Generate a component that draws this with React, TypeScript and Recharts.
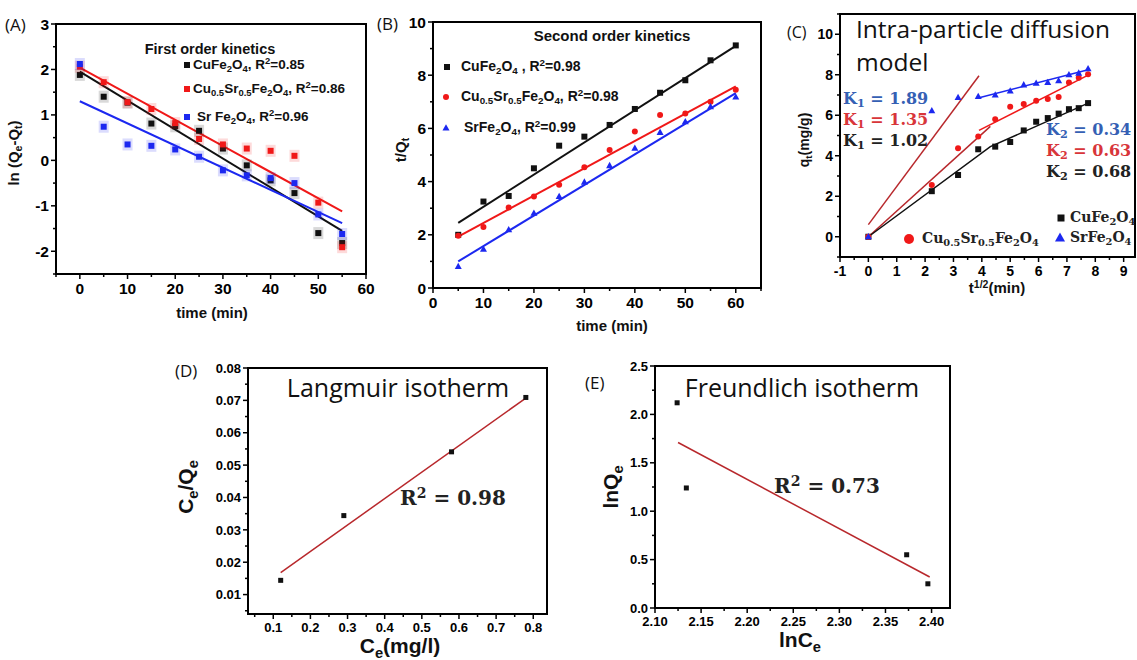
import React from 'react';
import { ComposedChart, Scatter, Line, XAxis, YAxis, ReferenceArea } from 'recharts';

// (A) first order kinetics, ln(Qe-Qt) against time
const timeA = [0, 5, 10, 15, 20, 25, 30, 35, 40, 45, 50, 55];
const lnCuFe = [1.88, 1.4, 1.27, 0.81, 0.75, 0.65, 0.26, -0.11, -0.44, -0.72, -1.6, -1.82];
const lnCuSr = [2.06, 1.72, 1.28, 1.13, 0.82, 0.47, 0.35, 0.26, 0.21, 0.1, -0.93, -1.91];
const lnSrFe = [2.12, 0.74, 0.35, 0.32, 0.24, 0.08, -0.22, -0.33, -0.39, -0.5, -1.19, -1.62];
const fitTimeA = [0, 55];
const fitLnCuFe = [1.95, -1.55];
const fitLnCuSr = [2.04, -1.12];
const fitLnSrFe = [1.3, -1.38];
const xTicksA = [-5, 0, 5, 10, 15, 20, 25, 30, 35, 40, 45, 50, 55, 60];
const xMajorA = [0, 10, 20, 30, 40, 50, 60];
const yTicksA = [-2.5, -2, -1.5, -1, -0.5, 0, 0.5, 1, 1.5, 2, 2.5, 3];
const yMajorA = [-2, -1, 0, 1, 2, 3];

// (B) second order kinetics, t/Qt against time
const timeB = [5, 10, 15, 20, 25, 30, 35, 40, 45, 50, 55, 60];
const tqCuFe = [2.0, 3.25, 3.46, 4.5, 5.35, 5.69, 6.13, 6.73, 7.34, 7.81, 8.56, 9.12];
const tqCuSr = [1.96, 2.29, 3.03, 3.44, 3.88, 4.54, 5.19, 5.88, 6.5, 6.56, 7.0, 7.45];
const tqSrFe = [0.81, 1.46, 2.19, 2.81, 3.44, 3.98, 4.6, 5.25, 5.85, 6.25, 6.81, 7.18];
const fitTimeB = [5, 60];
const fitTqCuFe = [2.45, 9.1];
const fitTqCuSr = [1.93, 7.58];
const fitTqSrFe = [1.0, 7.33];
const xTicksB = [0, 5, 10, 15, 20, 25, 30, 35, 40, 45, 50, 55, 60, 65];
const xMajorB = [0, 10, 20, 30, 40, 50, 60];
const yTicksB = [0, 1, 2, 3, 4, 5, 6, 7, 8, 9, 10];
const yMajorB = [0, 2, 4, 6, 8, 10];

// (C) intra-particle diffusion, qt against t^1/2
const rootT = [0, 2.236, 3.162, 3.873, 4.472, 5, 5.477, 5.916, 6.325, 6.708, 7.071, 7.416, 7.746];
const qCuFe = [0, 2.25, 3.05, 4.32, 4.45, 4.68, 5.25, 5.68, 5.86, 6.08, 6.3, 6.35, 6.6];
const qCuSr = [0, 2.56, 4.37, 4.95, 5.8, 6.42, 6.55, 6.72, 6.8, 6.9, 7.62, 7.85, 8.02];
const qSrFe = [0, 6.22, 6.88, 6.93, 7.0, 7.2, 7.5, 7.58, 7.62, 7.7, 8.0, 8.08, 8.3];
const fitSteepT = [0, 3.9];
const fitSteepQ = [0.6, 7.95];
const fitCuSr1T = [0, 4.3];
const fitCuSr1Q = [0, 5.45];
const fitCuSr2T = [3.9, 7.75];
const fitCuSr2Q = [5.25, 7.98];
const fitCuFeT = [0, 4.3, 7.75];
const fitCuFeQ = [0, 4.45, 6.6];
const fitSrFeT = [3.87, 7.75];
const fitSrFeQ = [6.85, 8.25];
const xTicksC = [-1, -0.5, 0, 0.5, 1, 1.5, 2, 2.5, 3, 3.5, 4, 4.5, 5, 5.5, 6, 6.5, 7, 7.5, 8, 8.5, 9];
const xMajorC = [-1, 0, 1, 2, 3, 4, 5, 6, 7, 8, 9];
const yTicksC = [-1, 0, 1, 2, 3, 4, 5, 6, 7, 8, 9, 10, 11];
const yMajorC = [0, 2, 4, 6, 8, 10];

// (D) Langmuir isotherm
const ceD = [0.12, 0.29, 0.58, 0.78];
const ceQeD = [0.0144, 0.0344, 0.0541, 0.0709];
const fitCeD = [0.12, 0.78];
const fitCeQeD = [0.0168, 0.0707];
const xTicksD = [0.05, 0.1, 0.15, 0.2, 0.25, 0.3, 0.35, 0.4, 0.45, 0.5, 0.55, 0.6, 0.65, 0.7, 0.75, 0.8];
const xMajorD = [0.1, 0.2, 0.3, 0.4, 0.5, 0.6, 0.7, 0.8];
const yTicksD = [0.005, 0.01, 0.015, 0.02, 0.025, 0.03, 0.035, 0.04, 0.045, 0.05, 0.055, 0.06, 0.065, 0.07, 0.075, 0.08];
const yMajorD = [0.01, 0.02, 0.03, 0.04, 0.05, 0.06, 0.07, 0.08];

// (E) Freundlich isotherm
const lnCeE = [2.124, 2.134, 2.373, 2.396];
const lnQeE = [2.12, 1.24, 0.55, 0.25];
const fitLnCeE = [2.125, 2.398];
const fitLnQeE = [1.71, 0.32];
const xTicksE = [2.1, 2.125, 2.15, 2.175, 2.2, 2.225, 2.25, 2.275, 2.3, 2.325, 2.35, 2.375, 2.4];
const xMajorE = [2.1, 2.15, 2.2, 2.25, 2.3, 2.35, 2.4];
const yTicksE = [0, 0.25, 0.5, 0.75, 1, 1.25, 1.5, 1.75, 2, 2.25, 2.5];
const yMajorE = [0, 0.5, 1, 1.5, 2, 2.5];

const BLACK = '#111111';
const RED = '#f01818';
const BLUE = '#1c28f0';
const DARKRED = '#b8282c';
const KBLUE = '#3560b4';
const KRED = '#d8353a';

const ARIAL = '"Liberation Sans", Arial, sans-serif';
const CALIBRI = '"Open Sans", sans-serif';
const CAMBRIA = '"DejaVu Serif", serif';

const pts = (xs: number[], ys: number[]) => xs.map((x, i) => ({ x, y: ys[i] }));

const Sym = ({ cx, cy, kind, color, s, halo }: any) => {
  if (cx == null || cy == null) return null;
  if (kind === 'circle') return <circle cx={cx} cy={cy} r={s / 2} fill={color} />;
  if (kind === 'triangle') {
    const h = s * 0.9;
    return <polygon points={`${cx},${cy - h * 0.6} ${cx - s / 2},${cy + h * 0.4} ${cx + s / 2},${cy + h * 0.4}`} fill={color} />;
  }
  return (
    <g>
      {halo && <rect x={cx - s / 2 - 2} y={cy - s / 2 - 3} width={s + 4} height={s + 6} fill={color} opacity={0.16} />}
      <rect x={cx - s / 2} y={cy - s / 2} width={s} height={s} fill={color} />
    </g>
  );
};

const mark = (kind: string, color: string, s: number, halo = false) => (p: any) =>
  <Sym cx={p.cx} cy={p.cy} kind={kind} color={color} s={s} halo={halo} />;

const tickFont = (fs: number) => ({ fontFamily: ARIAL, fontWeight: 'bold' as const, fontSize: fs, fill: '#000' });

const AxisTick = (props: any) => {
  const { x, y, payload, side, majors, fmt, fs } = props;
  const v = payload.value;
  const major = majors.some((m: number) => Math.abs(m - v) < 1e-9);
  const len = major ? 5 : 3;
  if (side === 'bottom') {
    return (
      <g>
        <line x1={x} y1={y} x2={x} y2={y + len} stroke="#000" strokeWidth={1.5} />
        {major && (
          <text x={x} y={y + 8} dy="0.75em" textAnchor="middle" style={tickFont(fs)}>
            {fmt(v)}
          </text>
        )}
      </g>
    );
  }
  return (
    <g>
      <line x1={x} y1={y} x2={x - len} y2={y} stroke="#000" strokeWidth={1.5} />
      {major && (
        <text x={x - 7} y={y} dy="0.36em" textAnchor="end" style={tickFont(fs)}>
          {fmt(v)}
        </text>
      )}
    </g>
  );
};

const PL = 70, PT = 14, PR = 18, PB = 40;

function Frame({ box, xDomain, yDomain, xTicks, xMajor, yTicks, yMajor, xFmt, yFmt, fs, children }: any) {
  const w = box[2] - box[0];
  const h = box[3] - box[1];
  return (
    <div style={{ position: 'absolute', left: box[0] - PL, top: box[1] - PT }}>
      <ComposedChart width={w + PL + PR} height={h + PT + PB} margin={{ top: PT, right: PR, bottom: 0, left: 0 }}>
        <XAxis type="number" dataKey="x" domain={xDomain} ticks={xTicks} interval={0} height={PB}
          allowDataOverflow axisLine={false} tickLine={false} tickSize={0} tickMargin={0}
          tick={<AxisTick side="bottom" majors={xMajor} fmt={xFmt} fs={fs} />} />
        <YAxis type="number" dataKey="y" domain={yDomain} ticks={yTicks} interval={0} width={PL}
          allowDataOverflow axisLine={false} tickLine={false} tickSize={0} tickMargin={0}
          tick={<AxisTick side="left" majors={yMajor} fmt={yFmt} fs={fs} />} />
        <ReferenceArea x1={xDomain[0]} x2={xDomain[1]} y1={yDomain[0]} y2={yDomain[1]}
          fill="none" stroke="#000" strokeWidth={2} fillOpacity={0} strokeOpacity={1} />
        {children}
      </ComposedChart>
    </div>
  );
}

const fitLine = (xs: number[], ys: number[], color: string, w = 2) => (
  <Line data={pts(xs, ys)} dataKey="y" type="linear" stroke={color} strokeWidth={w}
    dot={false} activeDot={false} isAnimationActive={false} legendType="none" />
);

const Txt = ({ x, y, c, style, children }: any) => (
  <div style={{
    position: 'absolute', left: x, top: y, whiteSpace: 'nowrap', lineHeight: 1,
    transform: c ? 'translate(-50%, -50%)' : 'translateY(-50%)', ...style,
  }}>{children}</div>
);

const VTxt = ({ x, y, style, children }: any) => (
  <div style={{
    position: 'absolute', left: x, top: y, whiteSpace: 'nowrap', lineHeight: 1,
    transform: 'translate(-50%, -50%) rotate(-90deg)', ...style,
  }}>{children}</div>
);

const Dot = ({ x, y, kind, color, s, halo }: any) => (
  <svg style={{ position: 'absolute', left: x - 8, top: y - 8 }} width={16} height={16}>
    <Sym cx={8} cy={8} kind={kind} color={color} s={s} halo={halo} />
  </svg>
);

const Sub = ({ children }: any) => <span style={{ fontSize: '0.7em', verticalAlign: '-0.3em' }}>{children}</span>;
const Sup = ({ children }: any) => <span style={{ fontSize: '0.7em', verticalAlign: '0.55em' }}>{children}</span>;

const bold = (size: number, extra: any = {}) => ({ fontFamily: ARIAL, fontWeight: 700, fontSize: size, color: '#111', ...extra });
const calibri = (size: number) => ({ fontFamily: CALIBRI, fontSize: size, color: '#111' });
const cambria = (size: number, color: string) => ({ fontFamily: CAMBRIA, fontWeight: 700, fontSize: size, color });

const int = (v: number) => String(v);

export default function App() {
  return (
    <div style={{ position: 'absolute', left: 0, top: 0, width: 1137, height: 660, background: '#fff', overflow: 'hidden' }}>
      <Frame box={[56, 24, 366, 274]} xDomain={[-5, 60]} yDomain={[-2.5, 3]} xTicks={xTicksA} xMajor={xMajorA}
        yTicks={yTicksA} yMajor={yMajorA} xFmt={int} yFmt={int} fs={15.5}>
        {fitLine(fitTimeA, fitLnCuFe, BLACK)}
        {fitLine(fitTimeA, fitLnCuSr, RED)}
        {fitLine(fitTimeA, fitLnSrFe, BLUE)}
        <Scatter data={pts(timeA, lnCuFe)} shape={mark('square', BLACK, 6, true)} isAnimationActive={false} />
        <Scatter data={pts(timeA, lnCuSr)} shape={mark('square', RED, 6, true)} isAnimationActive={false} />
        <Scatter data={pts(timeA, lnSrFe)} shape={mark('square', BLUE, 6, true)} isAnimationActive={false} />
      </Frame>

      <Frame box={[433, 22, 761, 288]} xDomain={[0, 65]} yDomain={[0, 10]} xTicks={xTicksB} xMajor={xMajorB}
        yTicks={yTicksB} yMajor={yMajorB} xFmt={int} yFmt={int} fs={15.5}>
        {fitLine(fitTimeB, fitTqCuFe, BLACK)}
        {fitLine(fitTimeB, fitTqCuSr, RED)}
        {fitLine(fitTimeB, fitTqSrFe, BLUE)}
        <Scatter data={pts(timeB, tqCuFe)} shape={mark('square', BLACK, 6)} isAnimationActive={false} />
        <Scatter data={pts(timeB, tqCuSr)} shape={mark('circle', RED, 6)} isAnimationActive={false} />
        <Scatter data={pts(timeB, tqSrFe)} shape={mark('triangle', BLUE, 7)} isAnimationActive={false} />
      </Frame>

      <Frame box={[840, 14, 1135, 257]} xDomain={[-1, 9.4]} yDomain={[-1, 11]} xTicks={xTicksC} xMajor={xMajorC}
        yTicks={yTicksC} yMajor={yMajorC} xFmt={int} yFmt={int} fs={14}>
        {fitLine(fitSteepT, fitSteepQ, DARKRED, 1.5)}
        {fitLine(fitCuSr1T, fitCuSr1Q, DARKRED, 1.5)}
        {fitLine(fitCuSr2T, fitCuSr2Q, RED, 1.5)}
        {fitLine(fitCuFeT, fitCuFeQ, BLACK, 1.5)}
        {fitLine(fitSrFeT, fitSrFeQ, BLUE, 1.5)}
        <Scatter data={pts(rootT, qCuFe)} shape={mark('square', BLACK, 6)} isAnimationActive={false} />
        <Scatter data={pts(rootT, qCuSr)} shape={mark('circle', RED, 6)} isAnimationActive={false} />
        <Scatter data={pts(rootT, qSrFe)} shape={mark('triangle', BLUE, 7)} isAnimationActive={false} />
      </Frame>

      <Frame box={[248, 368, 547, 614]} xDomain={[0.032, 0.837]} yDomain={[0.004, 0.08]} xTicks={xTicksD} xMajor={xMajorD}
        yTicks={yTicksD} yMajor={yMajorD} xFmt={(v: number) => v.toFixed(1)} yFmt={(v: number) => v.toFixed(2)} fs={13}>
        {fitLine(fitCeD, fitCeQeD, DARKRED, 1.5)}
        <Scatter data={pts(ceD, ceQeD)} shape={mark('square', BLACK, 5)} isAnimationActive={false} />
      </Frame>

      <Frame box={[655, 366, 950, 608]} xDomain={[2.1, 2.42]} yDomain={[0, 2.5]} xTicks={xTicksE} xMajor={xMajorE}
        yTicks={yTicksE} yMajor={yMajorE} xFmt={(v: number) => v.toFixed(2)} yFmt={(v: number) => v.toFixed(1)} fs={13}>
        {fitLine(fitLnCeE, fitLnQeE, DARKRED, 1.5)}
        <Scatter data={pts(lnCeE, lnQeE)} shape={mark('square', BLACK, 5)} isAnimationActive={false} />
      </Frame>

      {/* (A) */}
      <Txt x={5} y={24} style={calibri(17)}>(A)</Txt>
      <Txt x={210} y={49} c style={bold(14.5)}>First order kinetics</Txt>
      <Dot x={187} y={65} kind="square" color={BLACK} s={6} />
      <Txt x={193} y={65} style={bold(13.5)}>CuFe<Sub>2</Sub>O<Sub>4</Sub>, R<Sup>2</Sup>=0.85</Txt>
      <Dot x={187} y={89} kind="square" color={RED} s={6} />
      <Txt x={193} y={89} style={bold(13.5)}>Cu<Sub>0.5</Sub>Sr<Sub>0.5</Sub>Fe<Sub>2</Sub>O<Sub>4</Sub>, R<Sup>2</Sup>=0.86</Txt>
      <Dot x={187} y={117} kind="square" color={BLUE} s={6} />
      <Txt x={197} y={117} style={bold(13.5)}>Sr Fe<Sub>2</Sub>O<Sub>4</Sub>, R<Sup>2</Sup>=0.96</Txt>
      <VTxt x={15} y={153} style={bold(15)}>ln (Q<Sub>e</Sub>-Q<Sub>t</Sub>)</VTxt>
      <Txt x={212} y={312} c style={bold(15)}>time (min)</Txt>

      {/* (B) */}
      <Txt x={377} y={23} style={calibri(17)}>(B)</Txt>
      <Txt x={612} y={35} c style={bold(15)}>Second order kinetics</Txt>
      <Dot x={447} y={67} kind="square" color={BLACK} s={6} />
      <Txt x={461} y={67} style={bold(14)}>CuFe<Sub>2</Sub>O<Sub>4</Sub> , R<Sup>2</Sup>=0.98</Txt>
      <Dot x={446} y={97} kind="circle" color={RED} s={6} />
      <Txt x={461} y={97} style={bold(14)}>Cu<Sub>0.5</Sub>Sr<Sub>0.5</Sub>Fe<Sub>2</Sub>O<Sub>4</Sub>, R<Sup>2</Sup>=0.98</Txt>
      <Dot x={446} y={128} kind="triangle" color={BLUE} s={7} />
      <Txt x={464} y={128} style={bold(14)}>SrFe<Sub>2</Sub>O<Sub>4</Sub>,  R<Sup>2</Sup>=0.99</Txt>
      <VTxt x={402} y={150} style={bold(15)}>t/Q<Sub>t</Sub></VTxt>
      <Txt x={612} y={325} c style={bold(15)}>time (min)</Txt>

      {/* (C) */}
      <Txt x={787} y={32} style={calibri(16)}>(C)</Txt>
      <Txt x={856} y={29} style={calibri(24.5)}>Intra-particle diffusion</Txt>
      <Txt x={856} y={62} style={calibri(24.5)}>model</Txt>
      <Txt x={843} y={100} style={cambria(16, KBLUE)}>K<Sub>1</Sub> = 1.89</Txt>
      <Txt x={843} y={121} style={cambria(16, KRED)}>K<Sub>1</Sub> = 1.35</Txt>
      <Txt x={843} y={142} style={cambria(16, '#222')}>K<Sub>1</Sub> = 1.02</Txt>
      <Txt x={1046} y={131} style={cambria(16, KBLUE)}>K<Sub>2</Sub> = 0.34</Txt>
      <Txt x={1046} y={152} style={cambria(16, KRED)}>K<Sub>2</Sub> = 0.63</Txt>
      <Txt x={1046} y={173} style={cambria(16, '#222')}>K<Sub>2</Sub> = 0.68</Txt>
      <Dot x={1061} y={218} kind="square" color={BLACK} s={7} />
      <Txt x={1070} y={218} style={cambria(14, '#222')}>CuFe<Sub>2</Sub>O<Sub>4</Sub></Txt>
      <Dot x={909} y={239} kind="circle" color={RED} s={10} />
      <Txt x={922} y={239} style={cambria(14, '#222')}>Cu<Sub>0.5</Sub>Sr<Sub>0.5</Sub>Fe<Sub>2</Sub>O<Sub>4</Sub></Txt>
      <Dot x={1060} y={238} kind="triangle" color={BLUE} s={10} />
      <Txt x={1070} y={238} style={cambria(14, '#222')}>SrFe<Sub>2</Sub>O<Sub>4</Sub></Txt>
      <VTxt x={805} y={140} style={bold(14)}>q<Sub>t</Sub>(mg/g)</VTxt>
      <Txt x={997} y={287} c style={bold(15)}>t<Sup>1/2</Sup>(min)</Txt>

      {/* (D) */}
      <Txt x={175} y={370} style={calibri(17)}>(D)</Txt>
      <Txt x={398} y={387} c style={calibri(25)}>Langmuir isotherm</Txt>
      <Txt x={453} y={497} c style={cambria(20, '#222')}>R<Sup>2</Sup> = 0.98</Txt>
      <VTxt x={188} y={487} style={bold(21)}>C<Sub>e</Sub>/Q<Sub>e</Sub></VTxt>
      <Txt x={400} y={648} c style={bold(21)}>C<Sub>e</Sub>(mg/l)</Txt>

      {/* (E) */}
      <Txt x={585} y={382} style={calibri(17)}>(E)</Txt>
      <Txt x={802} y={387} c style={calibri(25)}>Freundlich isotherm</Txt>
      <Txt x={827} y={485} c style={cambria(20, '#222')}>R<Sup>2</Sup> = 0.73</Txt>
      <VTxt x={613} y={487} style={bold(21)}>lnQ<Sub>e</Sub></VTxt>
      <Txt x={800} y={642} c style={bold(21)}>lnC<Sub>e</Sub></Txt>
    </div>
  );
}
